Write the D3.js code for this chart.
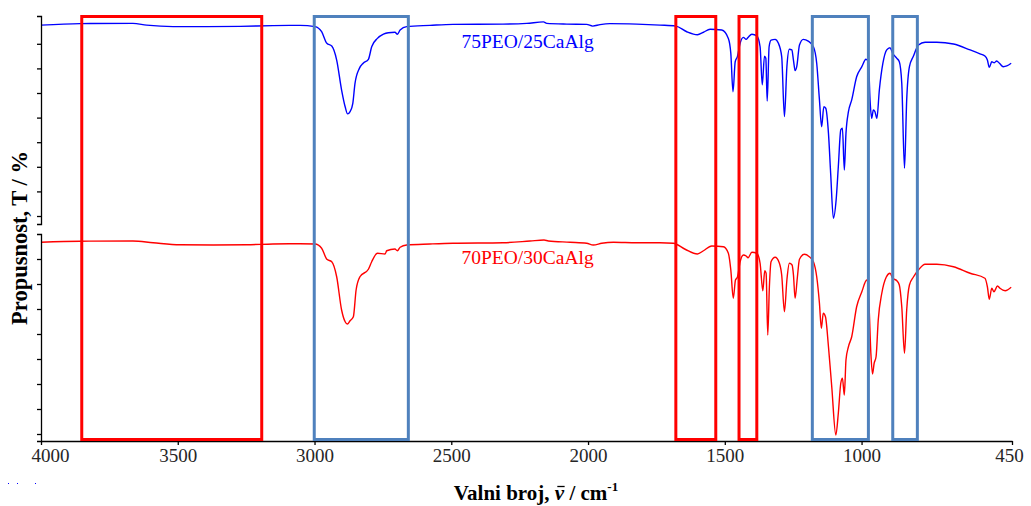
<!DOCTYPE html>
<html>
<head>
<meta charset="utf-8">
<script src="https://cdn.jsdelivr.net/npm/d3@7"></script>
<style>
  body { margin: 0; background: #fff; }
  svg { display: block; font-family: "Liberation Serif", "Times New Roman", serif; }
</style>
</head>
<body>
<div id="chart"></div>
<script>
// FTIR spectra, wavenumber (cm-1) vs transmittance (arbitrary %, each trace on its own panel)
var wnTop = [4000,3857,3664,3614,3517,3394,3272,3152,3053,2998,2974,2955,2937,2919,2901,2888,2879,2870,2860,2852,2836,2822,2803,2791,2770,2748,2730,2706,2697,2687,2663,2578,2494,2311,2224,2163,2151,2078,2005,1983,1956,1920,1822,1737,1679,1639,1600,1578,1554,1511,1487,1478,1470,1462,1454,1444,1432,1422,1415,1401,1383,1371,1363,1355,1350,1345,1338,1331,1316,1304,1292,1282,1273,1264,1255,1249,1243,1237,1227,1213,1195,1176,1164,1154,1146,1138,1131,1121,1113,1103,1093,1085,1076,1070,1063,1057,1048,1036,1018,999,984,975,969,963,957,951,944,935,922,908,896,886,871,862,853,843,835,825,811,792,768,725,664,603,567,549,540,533,524,515,506,496,482,469,453];
var tTop = [77.6,78.2,78.3,77.6,77.0,77.0,77.1,77.4,77.5,77.0,74.9,70.2,69.1,63.4,51.2,44.4,41.5,42.4,45.8,53.9,60.0,62.1,63.7,68.8,72.2,73.9,74.5,74.7,73.9,75.6,77.0,77.5,77.9,78.0,78.3,78.9,78.3,78.0,77.9,77.2,77.8,78.2,78.0,77.6,77.2,74.9,73.7,74.7,75.9,75.6,72.2,66.1,50.5,62.7,64.8,70.2,72.6,71.8,72.6,73.9,73.2,68.8,53.3,65.0,64.1,46.7,68.8,71.5,71.8,70.2,64.8,40.4,60.7,67.8,67.5,63.4,59.1,60.7,69.5,71.8,71.1,68.8,62.1,47.2,36.3,44.4,43.8,33.6,17.4,-0.9,6.5,20.0,35.0,35.7,18.7,33.6,42.4,47.2,56.6,60.7,63.7,62.7,47.2,39.7,43.1,42.4,39.7,51.2,62.1,67.5,68.4,66.1,64.1,62.7,53.9,19.4,47.2,60.7,64.8,69.5,70.6,70.6,69.9,67.5,65.9,65.0,63.4,60.4,62.7,62.3,63.0,62.1,60.7,61.0,62.1];

var wnBottom = [4000,3857,3664,3590,3492,3371,3248,3152,3053,2998,2974,2955,2937,2919,2901,2888,2880,2870,2858,2848,2834,2803,2791,2770,2742,2736,2706,2697,2687,2663,2578,2494,2311,2212,2161,2145,2066,2005,1981,1950,1907,1822,1737,1688,1645,1600,1578,1548,1505,1487,1478,1469,1461,1454,1444,1432,1422,1415,1401,1383,1371,1361,1354,1349,1343,1337,1331,1316,1301,1292,1282,1273,1264,1254,1249,1243,1235,1227,1209,1191,1176,1164,1154,1147,1140,1132,1121,1109,1094,1085,1076,1070,1063,1057,1048,1036,1018,999,981,973,966,960,954,947,939,926,910,896,886,871,862,853,843,835,825,811,792,768,725,664,603,549,540,533,524,516,503,494,475,453];
var tBottom = [76.7,77.1,77.2,76.5,75.7,75.6,75.7,76.0,76.1,76.0,74.3,69.9,68.9,62.9,49.6,44.9,44.0,45.3,46.9,57.6,62.9,65.9,68.9,72.3,72.0,73.3,74.0,73.3,74.7,75.6,76.0,76.3,76.5,77.2,77.6,77.2,76.7,76.3,75.6,76.3,76.7,76.5,76.5,76.3,73.9,72.0,73.3,75.2,74.9,72.3,65.6,54.3,61.6,62.7,68.9,71.6,71.2,70.5,72.7,72.3,68.3,57.3,65.3,64.3,39.6,58.9,68.9,70.7,68.5,63.6,48.9,61.6,68.3,67.6,63.6,54.3,62.3,69.9,71.9,70.9,68.9,62.9,52.3,42.3,48.3,46.9,34.9,18.9,-0.4,8.3,20.3,22.3,15.6,29.6,34.9,38.9,50.9,56.9,61.6,52.3,32.3,24.0,28.3,30.9,45.6,56.3,62.7,64.3,62.3,61.3,59.6,50.9,32.3,49.6,59.6,62.7,65.6,67.9,67.9,66.9,64.3,62.3,58.9,53.9,58.3,56.9,59.2,58.3,57.3,58.7];

var seriesNames = ["75PEO/25CaAlg", "70PEO/30CaAlg"];
var xTickValues = [4000, 3500, 3000, 2500, 2000, 1500, 1000, 450];
var tickValuesTop = [0, 10, 20, 30, 40, 50, 60, 70];
var tickValuesBottom = [0, 10, 20, 30, 40, 50, 60, 70];

// highlighted regions [from, to] in cm-1
var redBands = [[3851, 3193], [1679, 1533], [1448, 1383]];
var blueBands = [[3001, 2657], [1180, 975], [886, 796]];

var width = 1031,
    height = 506,
    blue = "#0000ff",
    red = "#ff0000",
    boxBlue = "#4f81bd";

var svg = d3.select("#chart").append("svg")
    .attr("width", width)
    .attr("height", height);

var x = d3.scaleLinear().domain([4000, 450]).range([41, 1012]);
var yTop = d3.scaleLinear().domain([-3.25, 81.3]).range([224, 16]);
var yBottom = d3.scaleLinear().domain([-2.8, 80]).range([441, 234]);

function toPoints(wn, t) {
    return wn.map(function(d, i) { return [d, t[i]]; });
}

var lineTop = d3.line()
    .x(function(d) { return x(d[0]); })
    .y(function(d) { return yTop(d[1]); })
    .curve(d3.curveMonotoneX);

var lineBottom = d3.line()
    .x(function(d) { return x(d[0]); })
    .y(function(d) { return yBottom(d[1]); })
    .curve(d3.curveMonotoneX);

svg.append("path")
    .datum(toPoints(wnTop, tTop))
    .attr("fill", "none")
    .attr("stroke", blue)
    .attr("stroke-width", 1.4)
    .attr("d", lineTop);

svg.append("path")
    .datum(toPoints(wnBottom, tBottom))
    .attr("fill", "none")
    .attr("stroke", red)
    .attr("stroke-width", 1.4)
    .attr("d", lineBottom);

// axes
svg.append("g")
    .attr("transform", "translate(41,0)")
    .call(d3.axisLeft(yTop).tickValues(tickValuesTop).tickSize(4).tickSizeOuter(4).tickFormat(""));

svg.append("g")
    .attr("transform", "translate(41,0)")
    .call(d3.axisLeft(yBottom).tickValues(tickValuesBottom).tickSize(4).tickSizeOuter(4).tickFormat(""));

var xAxis = svg.append("g")
    .attr("transform", "translate(0,441)")
    .call(d3.axisBottom(x).tickValues(xTickValues).tickSize(4).tickSizeOuter(0).tickFormat(d3.format("d")));

svg.selectAll(".domain, .tick line")
    .attr("stroke", "#000")
    .attr("stroke-width", 1.3);

xAxis.selectAll("text")
    .attr("font-family", "Liberation Serif, serif")
    .attr("font-size", 19)
    .attr("fill", "#262626")
    .attr("y", 8)
    .attr("dy", "0.71em")
    .attr("dx", function(d) { return d === 4000 ? 9 : (d === 450 ? -3 : 0); });

// highlight boxes
function drawBands(bands, colour) {
    svg.append("g").selectAll("rect")
        .data(bands)
        .enter().append("rect")
        .attr("x", function(d) { return x(d[0]); })
        .attr("y", 16.5)
        .attr("width", function(d) { return x(d[1]) - x(d[0]); })
        .attr("height", 423)
        .attr("fill", "none")
        .attr("stroke", colour)
        .attr("stroke-width", 3);
}
drawBands(blueBands, boxBlue);
drawBands(redBands, red);

// series labels
svg.append("text")
    .attr("x", x(2221))
    .attr("y", yTop(68.2))
    .attr("text-anchor", "middle")
    .attr("font-size", 19.5)
    .attr("fill", blue)
    .text(seriesNames[0]);

svg.append("text")
    .attr("x", x(2221))
    .attr("y", yBottom(68))
    .attr("text-anchor", "middle")
    .attr("font-size", 19.5)
    .attr("fill", red)
    .text(seriesNames[1]);

// axis titles
svg.append("text")
    .attr("transform", "translate(27,238) rotate(-90)")
    .attr("text-anchor", "middle")
    .attr("font-size", 22.5)
    .attr("font-weight", "bold")
    .text("Propusnost, T / %");

var xt = svg.append("text")
    .attr("x", 536)
    .attr("y", 500)
    .attr("text-anchor", "middle")
    .attr("font-size", 21)
    .attr("font-weight", "bold");
xt.append("tspan").text("Valni broj, ");
var nu = xt.append("tspan").attr("font-style", "italic").text("\u03bd");
xt.append("tspan").text(" / cm");
xt.append("tspan").attr("dy", -9).attr("font-size", 13).text("-1");

// bar over nu
var nuIndex = "Valni broj, ".length;
var box = xt.node().getExtentOfChar(nuIndex);
svg.append("line")
    .attr("x1", box.x + 2.5)
    .attr("x2", box.x + box.width + 0.5)
    .attr("y1", 500 - 13.5)
    .attr("y2", 500 - 13.5)
    .attr("stroke", "#000")
    .attr("stroke-width", 1.3);

// stray dots in the lower left corner of the original
svg.append("g").selectAll("rect")
    .data([8, 17, 35])
    .enter().append("rect")
    .attr("x", function(d) { return d; })
    .attr("y", 483)
    .attr("width", 1)
    .attr("height", 1)
    .attr("fill", blue);
</script>
</body>
</html>
